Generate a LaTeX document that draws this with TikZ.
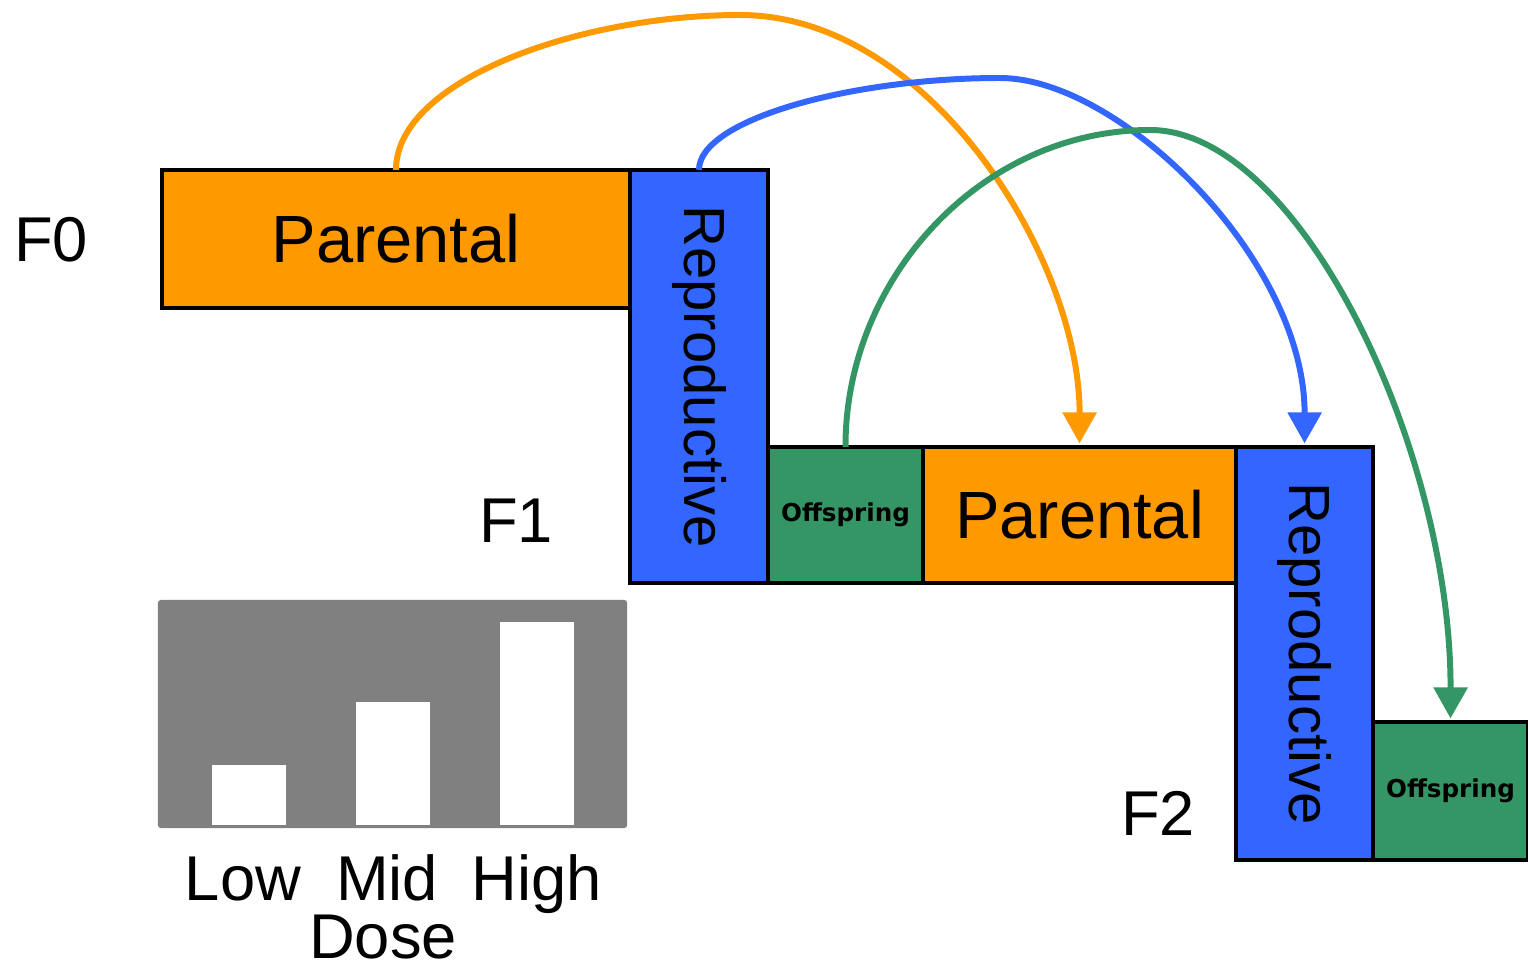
\documentclass[tikz,border=0pt]{standalone}
\usepackage{fontspec}
\setmainfont{Liberation Sans}
\newfontfamily\offfont{DejaVu Sans}
\usetikzlibrary{arrows.meta}

\definecolor{parorange}{RGB}{255,153,0}
\definecolor{repblue}{RGB}{51,102,255}
\definecolor{offgreen}{RGB}{51,150,100}
\definecolor{dosegray}{RGB}{128,128,128}

\tikzset{
  stage/.style={draw=black, line width=1.2pt, inner sep=0pt, outer sep=0pt},
  parbox/.style={stage, fill=parorange, font=\fontsize{19}{19}\selectfont},
  repbox/.style={stage, fill=repblue, font=\fontsize{16.5}{16.5}\selectfont},
  offbox/.style={stage, fill=offgreen, font=\offfont\bfseries\fontsize{7}{7}\selectfont},
  genlabel/.style={anchor=base, inner sep=0pt, font=\fontsize{18}{18}\selectfont},
  doselabel/.style={anchor=base, inner sep=0pt, font=\fontsize{18}{18}\selectfont},
  bar/.style={fill=white, inner sep=0pt, outer sep=0pt, minimum width=0.74cm},
  flow/.style={line width=1.7pt, -{Triangle[width=0.33cm,length=0.31cm]}, shorten >=1pt},
}

\begin{document}
\begin{tikzpicture}[x=0.01cm, y=-0.01cm]
\useasboundingbox (0,0) rectangle (1528,967);

% generation F0
\node[parbox, minimum width=4.68cm, minimum height=1.38cm] (par0) at (396,239) {Parental};
\node[repbox, minimum width=1.38cm, minimum height=4.13cm] (rep1) at (699,376.5) {\rotatebox{-90}{Reproductive}};

% generation F1
\node[offbox, minimum width=1.55cm, minimum height=1.36cm] (off1) at (845.5,515) {Offspring};
\node[parbox, minimum width=3.13cm, minimum height=1.36cm] (par2) at (1079.5,515) {Parental};
\node[repbox, minimum width=1.37cm, minimum height=4.13cm] (rep2) at (1304.5,653.5) {\rotatebox{-90}{Reproductive}};

% generation F2
\node[offbox, minimum width=1.55cm, minimum height=1.38cm] (off2) at (1450.5,791) {Offspring};

% generation labels
\node[genlabel] (f0) at (51,262) {F0};
\node[genlabel] (f1) at (516,542) {F1};
\node[genlabel] (f2) at (1158,835) {F2};

% dose panel
\node[fill=dosegray, rounded corners=0.03cm, inner sep=0pt, minimum width=4.69cm, minimum height=2.28cm] (panel) at (392.5,714) {};
\node[bar, minimum height=0.60cm] (low)  at (249,795) {};
\node[bar, minimum height=1.23cm] (mid)  at (393,763.5) {};
\node[bar, minimum height=2.03cm] (high) at (537,723.5) {};
\node[doselabel] (lowt)  at (243,900) {Low};
\node[doselabel] (midt)  at (387,900) {Mid};
\node[doselabel] (hight) at (537,900) {High};
\node[doselabel] (dose)  at (383,958) {Dose};

% crests of the transfer arcs
\coordinate (topP) at (740,15);
\coordinate (topR) at (1000,78);
\coordinate (topO) at (1150,130);

% transfer arrows between generations
\draw[flow, parorange] (par0.north) .. controls (396,80) and (580,15) .. (topP)
  .. controls (930,15) and (1080,260) .. (par2.north);
\draw[flow, repblue] (rep1.north) .. controls (699,120) and (850,78) .. (topR)
  .. controls (1120,78) and (1305,260) .. (rep2.north);
\draw[flow, offgreen] (off1.north) .. controls (845,280) and (980,130) .. (topO)
  .. controls (1300,130) and (1451,450) .. (off2.north);
\end{tikzpicture}
\end{document}
